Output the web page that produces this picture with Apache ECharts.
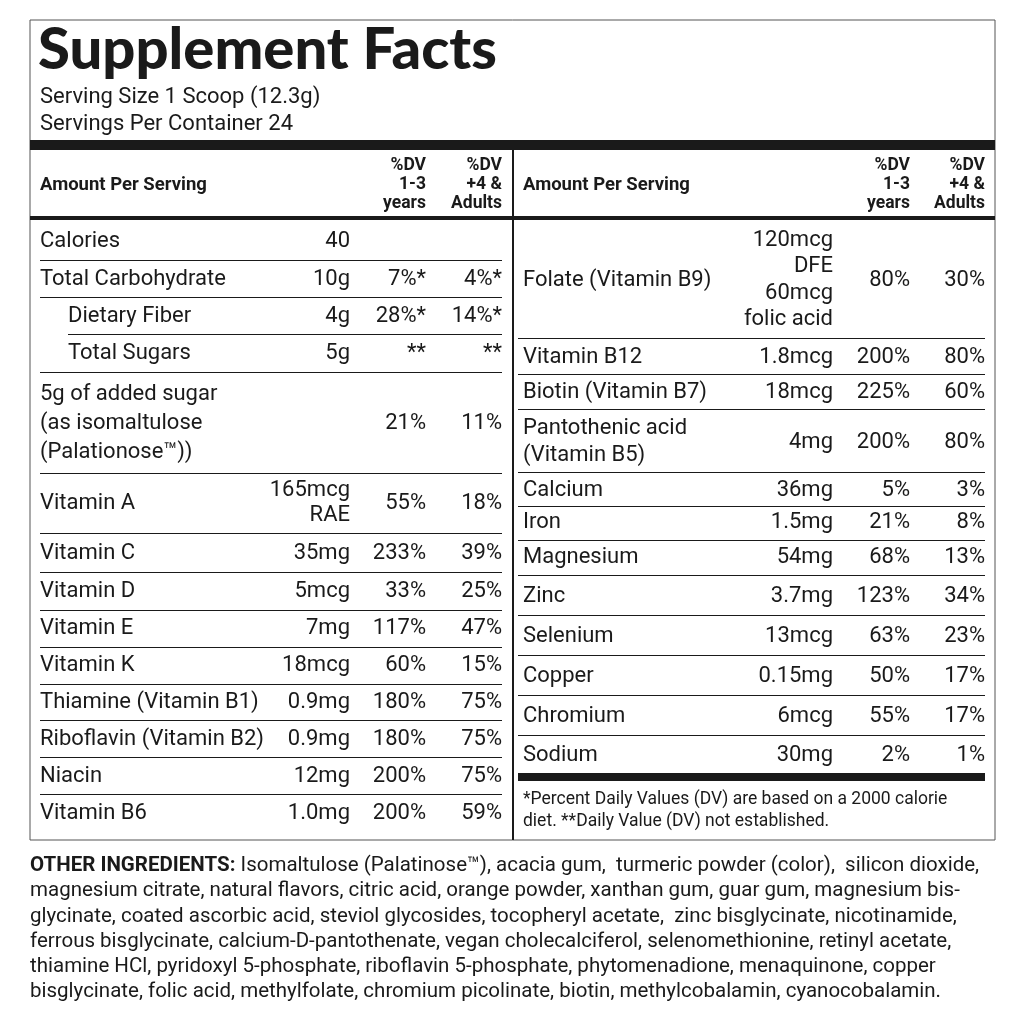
<!DOCTYPE html><html><head><meta charset="utf-8">
<script src="https://cdn.jsdelivr.net/npm/echarts@6/dist/echarts.min.js"></script>
<style>html,body{margin:0;background:#fff}#c{width:1024px;height:1024px}</style></head><body><div id="c"></div>
<script>
const title = "Supplement Facts";
const serving = ["Serving Size 1 Scoop (12.3g)", "Servings Per Container 24"];
const leftNames = [["Calories"],["Total Carbohydrate"],["Dietary Fiber"],["Total Sugars"],["5g of added sugar","(as isomaltulose","(Palationose™))"],["Vitamin A"],["Vitamin C"],["Vitamin D"],["Vitamin E"],["Vitamin K"],["Thiamine (Vitamin B1)"],["Riboflavin (Vitamin B2)"],["Niacin"],["Vitamin B6"]];
const leftAmounts = [["40"],["10g"],["4g"],["5g"],[""],["165mcg","RAE"],["35mg"],["5mcg"],["7mg"],["18mcg"],["0.9mg"],["0.9mg"],["12mg"],["1.0mg"]];
const leftDv1 = ["","7%*","28%*","**","21%","55%","233%","33%","117%","60%","180%","180%","200%","200%"];
const leftDv2 = ["","4%*","14%*","**","11%","18%","39%","25%","47%","15%","75%","75%","75%","59%"];
const rightNames = [["Folate (Vitamin B9)"],["Vitamin B12"],["Biotin (Vitamin B7)"],["Pantothenic acid","(Vitamin B5)"],["Calcium"],["Iron"],["Magnesium"],["Zinc"],["Selenium"],["Copper"],["Chromium"],["Sodium"]];
const rightAmounts = [["120mcg","DFE","60mcg","folic acid"],["1.8mcg"],["18mcg"],["4mg"],["36mg"],["1.5mg"],["54mg"],["3.7mg"],["13mcg"],["0.15mg"],["6mcg"],["30mg"]];
const rightDv1 = ["80%","200%","225%","200%","5%","21%","68%","123%","63%","50%","55%","2%"];
const rightDv2 = ["30%","80%","60%","80%","3%","8%","13%","34%","23%","17%","17%","1%"];
const footnote = ["*Percent Daily Values (DV) are based on a 2000 calorie","diet. **Daily Value (DV) not established."];
const ingredients = ["{b|OTHER INGREDIENTS:} Isomaltulose (Palatinose™), acacia gum,  turmeric powder (color),  silicon dioxide,",
"magnesium citrate, natural flavors, citric acid, orange powder, xanthan gum, guar gum, magnesium bis-",
"glycinate, coated ascorbic acid, steviol glycosides, tocopheryl acetate,  zinc bisglycinate, nicotinamide,",
"ferrous bisglycinate, calcium-D-pantothenate, vegan cholecalciferol, selenomethionine, retinyl acetate,",
"thiamine HCl, pyridoxyl 5-phosphate, riboflavin 5-phosphate, phytomenadione, menaquinone, copper",
"bisglycinate, folic acid, methylfolate, chromium picolinate, biotin, methylcobalamin, cyanocobalamin."];

const F = "Roboto";
const leftCenters=[241,279,316,353,423,503,553,591,628,665,702,739,776,813];
const leftLines=[260,297,334,372,473,533,572,610,647,684,720,757,794];
const leftLineX=[40,40,68,40,40,40,40,40,40,40,40,40,40];
const leftIndent=[0,0,28,28,0,0,0,0,0,0,0,0,0,0];
const rightCenters=[280,357,392,442,490,522,557,596,636,676,716,755];
const rightLines=[338,374,409,472,506,540,575,615,655,695,735];
const els=[];
function txt(x,y,s,o){els.push({type:'text',x,y,style:Object.assign({text:s,fill:'#1a1a1a',font:'22px '+F,textAlign:'left',textVerticalAlign:'middle'},o||{})});}
function rect(x,y,w,h){els.push({type:'rect',shape:{x,y,width:w,height:h},style:{fill:'#1a1a1a'}});}
function multi(x,cy,arr,lh,o){const n=arr.length;arr.forEach((s,i)=>txt(x,cy+(i-(n-1)/2)*lh,s,o));}
els.push({type:'rect',shape:{x:30,y:20,width:965,height:820},style:{fill:'none',stroke:'#555',lineWidth:1}});
txt(38,50,title,{font:'900 58px Lato'});
txt(40,97,serving[0]);txt(40,124,serving[1]);
rect(30,140,965,10);
rect(512,150,2,690);
[[40,426,502],[523,910,985]].forEach(c=>{
 txt(c[0],185,"Amount Per Serving",{font:'bold 18.5px '+F});
 multi(c[1],185,["%DV","1-3","years"],19,{font:'bold 17.5px '+F,textAlign:'right'});
 multi(c[2],185,["%DV","+4 &","Adults"],19,{font:'bold 17.5px '+F,textAlign:'right'});
});
rect(30,216,482,4);rect(514,216,481,4);
leftNames.forEach((n,i)=>{const y=leftCenters[i];
 multi(40+leftIndent[i],y,n,29);
 multi(350,y,leftAmounts[i],25,{textAlign:'right'});
 txt(426,y,leftDv1[i],{textAlign:'right'});txt(502,y,leftDv2[i],{textAlign:'right'});});
leftLines.forEach((y,i)=>rect(leftLineX[i],y,502-leftLineX[i],1));
rightNames.forEach((n,i)=>{const y=rightCenters[i];
 multi(523,y,n,27);
 multi(833,y,rightAmounts[i],26.5,{textAlign:'right'});
 txt(910,y,rightDv1[i],{textAlign:'right'});txt(985,y,rightDv2[i],{textAlign:'right'});});
rightLines.forEach(y=>rect(518,y,467,1));
rect(518,773,467,8);
txt(523,800,footnote[0],{font:'17.5px '+F});txt(523,822,footnote[1],{font:'17.5px '+F});
ingredients.forEach((s,i)=>els.push({type:'text',x:30,y:866+i*25.2,style:{text:s,fill:'#1a1a1a',font:'20.5px '+F,textVerticalAlign:'middle',rich:{b:{font:'bold 20.5px '+F,fill:'#1a1a1a'}}}}));
const chart=echarts.init(document.getElementById('c'));
chart.setOption({graphic:{elements:els}});
</script></body></html>
